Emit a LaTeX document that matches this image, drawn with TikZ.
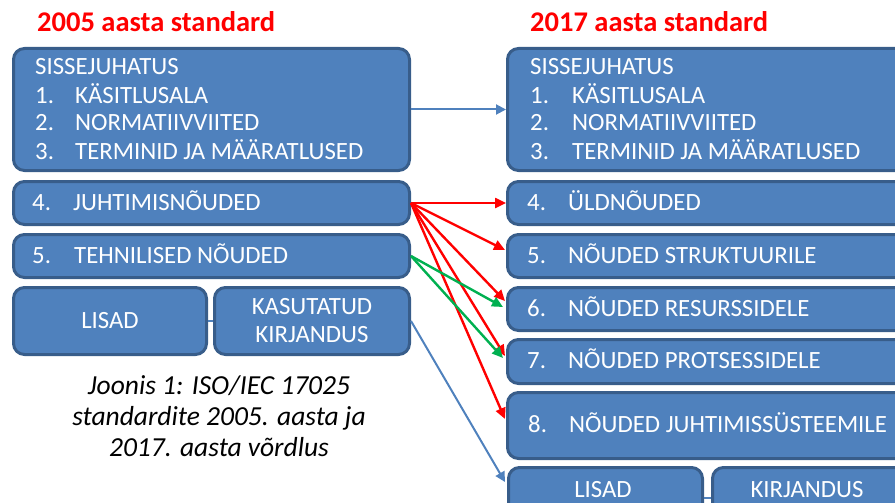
\documentclass[tikz,border=0pt]{standalone}
\usepackage{fontspec}
\setmainfont{Carlito}
\usetikzlibrary{arrows.meta}
\definecolor{boxfill}{HTML}{4F81BD}
\definecolor{boxline}{HTML}{385D8A}
\definecolor{myred}{HTML}{FF0000}
\definecolor{mygreen}{HTML}{00B050}
\tikzset{
  box/.style={draw=boxline, fill=boxfill, line width=3pt, rounded corners=11pt, inner sep=0pt, anchor=north west},
  btxt/.style={text=white, font=\fontsize{24.8}{28}\selectfont, inner sep=0pt, anchor=base west},
  ctxt/.style={text=white, font=\fontsize{24.8}{28}\selectfont, inner sep=0pt, align=center},
  title/.style={text=myred, font=\fontsize{28.5}{32}\selectfont\bfseries, inner sep=0pt, anchor=base west},
  redarr/.style={draw=myred, line width=2.4pt, -{Triangle[length=11pt,width=10pt]}},
  grnarr/.style={draw=mygreen, line width=2.4pt, -{Triangle[length=11pt,width=10pt]}},
  bluarr/.style={draw=boxfill, line width=2pt, -{Triangle[length=10pt,width=10pt]}},
  bluln/.style={draw=boxfill, line width=2pt},
}
\begin{document}
\begin{tikzpicture}[x=1pt,y=-1pt]
\useasboundingbox (0,0) rectangle (895,503);
\clip (0,0) rectangle (895,503);
% titles
\node[title] (t1) at (37,32) {2005 aasta standard};
\node[title] (t2) at (530,32) {2017 aasta standard};
% left boxes
\node[box, minimum width=396pt, minimum height=122pt] (L0) at (12,47) {};
\node[box, minimum width=396pt, minimum height=43pt] (L4) at (12,180) {};
\node[box, minimum width=396pt, minimum height=43pt] (L5) at (12,233) {};
\node[box, minimum width=193pt, minimum height=67pt] (LL) at (12,286) {};
\node[box, minimum width=195pt, minimum height=67pt] (LK) at (213,286) {};
% right boxes
\node[box, minimum width=400pt, minimum height=122pt] (R0) at (506,47) {};
\node[box, minimum width=400pt, minimum height=43pt] (R4) at (506,180) {};
\node[box, minimum width=400pt, minimum height=43pt] (R5) at (506,233) {};
\node[box, minimum width=400pt, minimum height=43pt] (R6) at (506,286) {};
\node[box, minimum width=400pt, minimum height=44pt] (R7) at (506,338) {};
\node[box, minimum width=400pt, minimum height=66pt] (R8) at (506,391) {};
\node[box, minimum width=194pt, minimum height=60pt] (RL) at (507,466) {};
\node[box, minimum width=200pt, minimum height=60pt] (RK) at (711,466) {};
% left texts
\node[btxt] (l0a) at (35,75) {SISSEJUHATUS};
\node[btxt] (l1n) at (35,103) {1.};
\node[btxt] (l1t) at (75,103) {KÄSITLUSALA};
\node[btxt] (l2n) at (35,131) {2.};
\node[btxt] (l2t) at (75,131) {NORMATIIVVIITED};
\node[btxt] (l3n) at (35,159) {3.};
\node[btxt] (l3t) at (75,159) {TERMINID JA MÄÄRATLUSED};
\node[btxt] (l4n) at (32,210) {4.};
\node[btxt] (l4t) at (73,210) {JUHTIMISNÕUDED};
\node[btxt] (l5n) at (32,263) {5.};
\node[btxt] (l5t) at (74,263) {TEHNILISED NÕUDED};
\node[ctxt] (llt) at (LL.center) {LISAD};
\node[ctxt] (lkt) at (LK.center) {KASUTATUD\\KIRJANDUS};
% right texts
\node[btxt] (r0a) at (530,75) {SISSEJUHATUS};
\node[btxt] (r1n) at (530,103) {1.};
\node[btxt] (r1t) at (572,103) {KÄSITLUSALA};
\node[btxt] (r2n) at (530,131) {2.};
\node[btxt] (r2t) at (572,131) {NORMATIIVVIITED};
\node[btxt] (r3n) at (530,159) {3.};
\node[btxt] (r3t) at (572,159) {TERMINID JA MÄÄRATLUSED};
\node[btxt] (r4n) at (527,210) {4.};
\node[btxt] (r4t) at (568,210) {ÜLDNÕUDED};
\node[btxt] (r5n) at (527,263) {5.};
\node[btxt] (r5t) at (568,263) {NÕUDED STRUKTUURILE};
\node[btxt] (r6n) at (527,316) {6.};
\node[btxt] (r6t) at (568,316) {NÕUDED RESURSSIDELE};
\node[btxt] (r7n) at (527,368) {7.};
\node[btxt] (r7t) at (568,368) {NÕUDED PROTSESSIDELE};
\node[btxt] (r8n) at (528,432) {8.};
\node[btxt] (r8t) at (569,432) {NÕUDED JUHTIMISSÜSTEEMILE};
\node[ctxt] (rlt) at (603,490) {LISAD};
\node[ctxt] (rkt) at (807,490) {KIRJANDUS};
% caption
\node[font=\fontsize{27.5}{31}\selectfont\itshape, align=center, inner sep=0pt] (cap) at (219,416)
  {Joonis 1: ISO/IEC 17025\\standardite 2005. aasta ja\\2017. aasta võrdlus};
% arrow end points on the target boxes
\coordinate (e5) at (505,250);
\coordinate (e6r) at (505,301);
\coordinate (e7r) at (505,356);
\coordinate (e8) at (505,419);
\coordinate (e6g) at (503,307);
\coordinate (e7g) at (503,358);
\coordinate (eL) at (505,482);
% connectors
\draw[bluarr] (L0.east) -- (R0.west);
\draw[redarr] (L4.east) -- (R4.west);
\draw[redarr] (L4.east) -- (e5);
\draw[redarr] (L4.east) -- (e6r);
\draw[redarr] (L4.east) -- (e7r);
\draw[redarr] (L4.east) -- (e8);
\draw[grnarr] (L5.east) -- (e6g);
\draw[grnarr] (L5.east) -- (e7g);
\draw[bluarr] (LK.east) -- (eL);
\draw[bluln] (LL.east) -- (LK.west);
\draw[bluln] (RL.east) -- (RK.west);
\end{tikzpicture}
\end{document}
